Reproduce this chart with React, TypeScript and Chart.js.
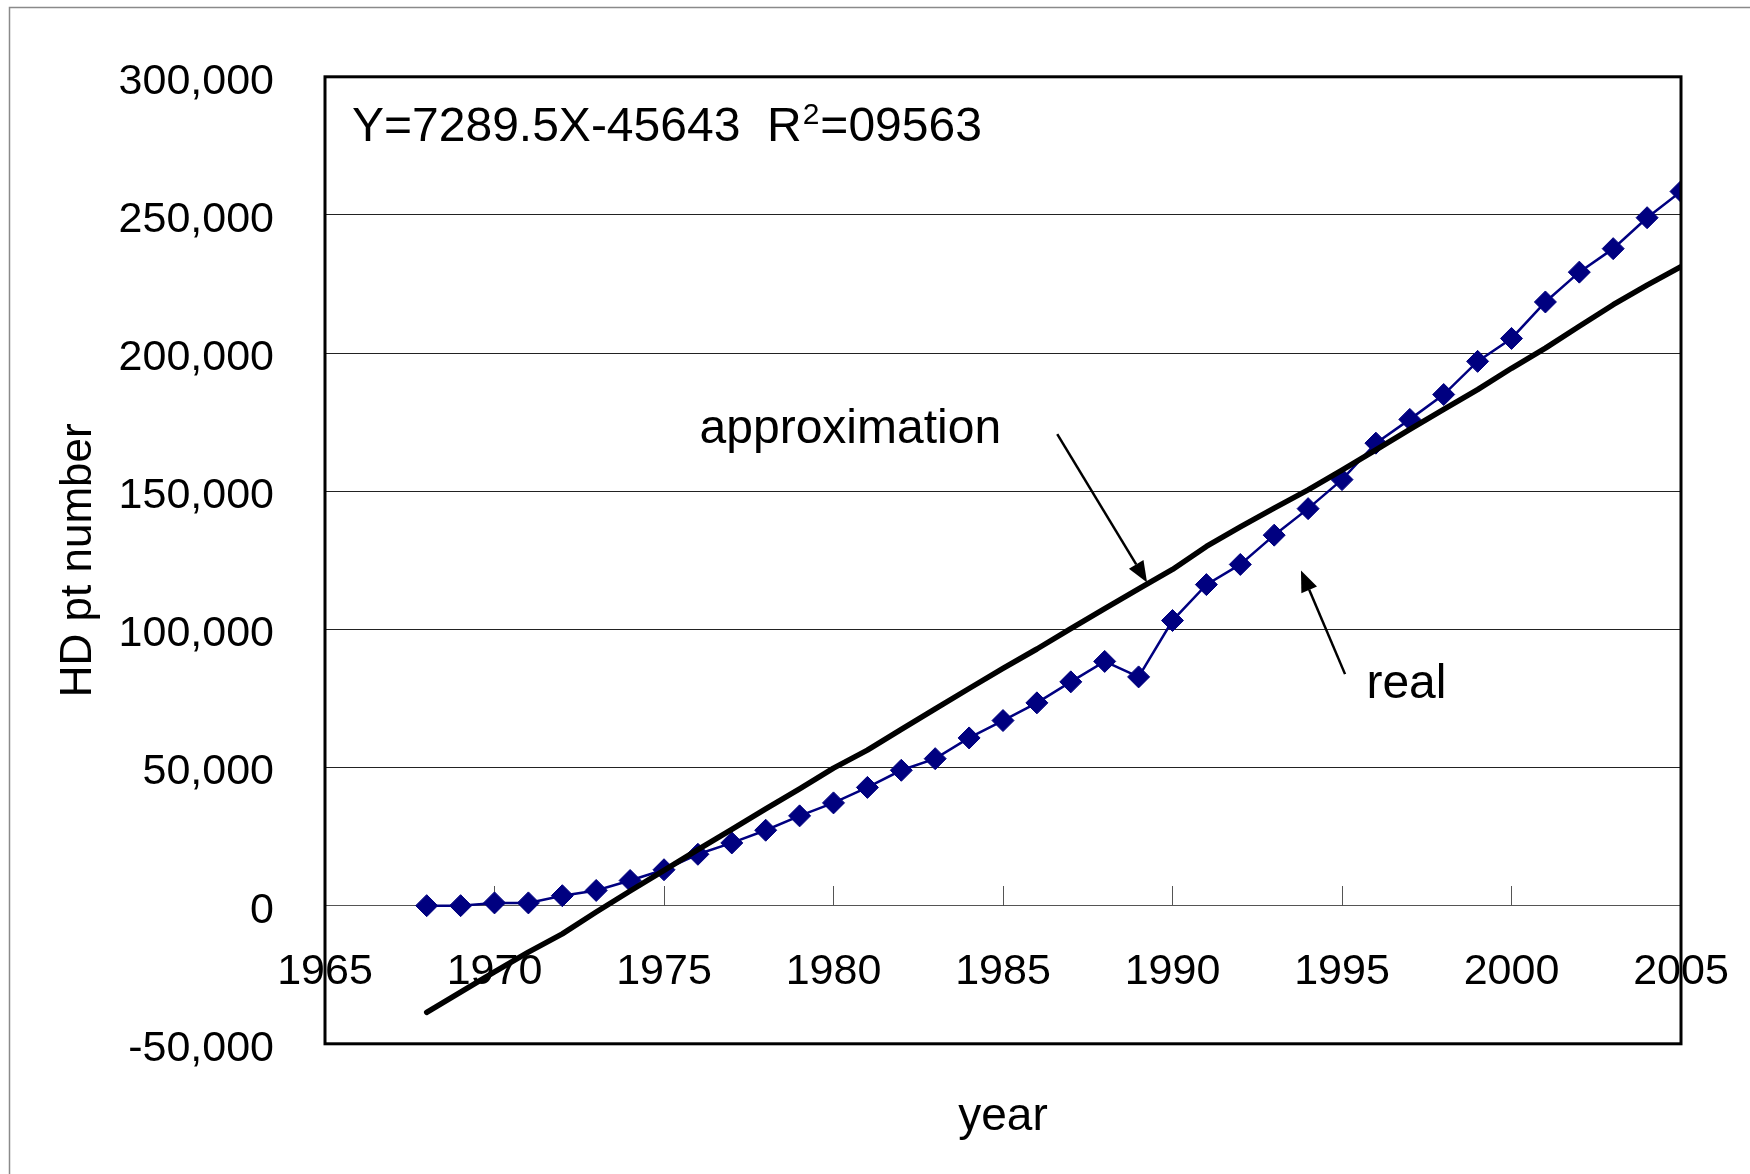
import React, { useEffect, useRef } from "react";
import { Chart, registerables } from "chart.js";

Chart.register(...registerables);

// ---- data ----
const years = [
  1968, 1969, 1970, 1971, 1972, 1973, 1974, 1975, 1976, 1977,
  1978, 1979, 1980, 1981, 1982, 1983, 1984, 1985, 1986, 1987,
  1988, 1989, 1990, 1991, 1992, 1993, 1994, 1995, 1996, 1997,
  1998, 1999, 2000, 2001, 2002, 2003, 2004, 2005,
];
const realValues = [
  0, 0, 1000, 1000, 3600, 5500, 9100, 13000, 18600, 22700,
  27300, 32500, 37200, 42800, 49000, 53200, 60700, 67000, 73400, 81000,
  88400, 82800, 103200, 116200, 123500, 134100, 143700, 154200, 167400, 176000,
  185000, 197000, 205300, 218500, 229300, 237800, 249000, 258500,
];
const approxValues = [
  -38600, -31300, -24000, -16800, -10200, -2300, 5300, 12800, 20300, 27600,
  35000, 42300, 49800, 56300, 63800, 71200, 78600, 85900, 92900, 100300,
  107500, 114700, 121700, 130000, 137100, 143900, 150500, 157600, 165000, 172400,
  179600, 186800, 194500, 201800, 209700, 217500, 224600, 231300,
];
const xMin = 1965;
const xMax = 2005;
const xStep = 5;
const yMin = -50000;
const yMax = 300000;
const yStep = 50000;
const yTitle = "HD pt number";
const xTitle = "year";
const eqMain = "Y=7289.5X-45643  R";
const eqSup = "2";
const eqTail = "=09563";
const labelApprox = "approximation";
const labelReal = "real";

const FONT = '"Liberation Sans", Arial, sans-serif';

function arrow(ctx: CanvasRenderingContext2D, x1: number, y1: number, x2: number, y2: number) {
  const ang = Math.atan2(y2 - y1, x2 - x1);
  const hl = 21;
  const hw = 8.5;
  const bx = x2 - hl * Math.cos(ang);
  const by = y2 - hl * Math.sin(ang);
  ctx.beginPath();
  ctx.moveTo(x1, y1);
  ctx.lineTo(bx, by);
  ctx.lineWidth = 2.5;
  ctx.strokeStyle = "#000";
  ctx.stroke();
  ctx.beginPath();
  ctx.moveTo(x2, y2);
  ctx.lineTo(bx - hw * Math.sin(ang), by + hw * Math.cos(ang));
  ctx.lineTo(bx + hw * Math.sin(ang), by - hw * Math.cos(ang));
  ctx.closePath();
  ctx.fillStyle = "#000";
  ctx.fill();
}

const decorations = {
  id: "decorations",
  beforeDraw(chart: any) {
    const ctx = chart.ctx as CanvasRenderingContext2D;
    ctx.save();
    ctx.fillStyle = "#fff";
    ctx.fillRect(0, 0, chart.width, chart.height);
    ctx.strokeStyle = "#8a8a8a";
    ctx.lineWidth = 1.5;
    ctx.beginPath();
    ctx.moveTo(9.5, chart.height);
    ctx.lineTo(9.5, 7.5);
    ctx.lineTo(chart.width, 7.5);
    ctx.stroke();
    ctx.restore();
  },
  afterDatasetsDraw(chart: any) {
    const ctx = chart.ctx as CanvasRenderingContext2D;
    const { left, top, right, bottom } = chart.chartArea;
    const xs = chart.scales.x;
    const ys = chart.scales.y;
    ctx.save();
    // plot frame
    ctx.strokeStyle = "#000";
    ctx.lineWidth = 3;
    ctx.strokeRect(left, top, right - left, bottom - top);

    // equation
    ctx.fillStyle = "#000";
    ctx.textAlign = "left";
    ctx.textBaseline = "alphabetic";
    ctx.font = `48px ${FONT}`;
    let ex = left + 27;
    const ey = top + 64;
    ctx.fillText(eqMain, ex, ey);
    ex += ctx.measureText(eqMain).width;
    ctx.font = `30px ${FONT}`;
    ctx.fillText(eqSup, ex + 1, ey - 17);
    ex += ctx.measureText(eqSup).width + 2;
    ctx.font = `48px ${FONT}`;
    ctx.fillText(eqTail, ex, ey);

    // annotation labels
    ctx.font = `48px ${FONT}`;
    ctx.fillText(labelApprox, xs.getPixelForValue(1976.05), ys.getPixelForValue(167300));
    ctx.fillText(labelReal, xs.getPixelForValue(1995.72), ys.getPixelForValue(75200));

    // arrows
    arrow(ctx, xs.getPixelForValue(1986.6), ys.getPixelForValue(170700), xs.getPixelForValue(1989.25), ys.getPixelForValue(117000));
    arrow(ctx, xs.getPixelForValue(1995.09), ys.getPixelForValue(83800), xs.getPixelForValue(1993.79), ys.getPixelForValue(121300));
    ctx.restore();
  },
};

export default function App() {
  const ref = useRef<HTMLCanvasElement | null>(null);

  useEffect(() => {
    if (!ref.current) return;
    const realPts = years.map((x, i) => ({ x, y: realValues[i] }));
    const approxPts = years.map((x, i) => ({ x, y: approxValues[i] }));
    const chart = new Chart(ref.current, {
      type: "line",
      data: {
        datasets: [
          {
            label: "approximation",
            data: approxPts,
            borderColor: "#000",
            borderWidth: 5.5,
            pointRadius: 0,
            tension: 0,
            fill: false,
            borderCapStyle: "round",
            borderJoinStyle: "round",
          },
          {
            label: "real",
            data: realPts,
            borderColor: "#000080",
            backgroundColor: "#000080",
            borderWidth: 2.5,
            pointStyle: "rectRot",
            pointRadius: 11,
            pointBorderWidth: 1,
            pointBorderColor: "#000080",
            pointBackgroundColor: "#000080",
            tension: 0,
            fill: false,
          },
        ],
      },
      options: {
        animation: false,
        responsive: false,
        maintainAspectRatio: false,
        events: [],
        layout: { padding: { left: 0, top: 72, right: 69, bottom: 29 } },
        plugins: {
          legend: { display: false },
          tooltip: { enabled: false },
          title: { display: false },
        },
        scales: {
          x: {
            type: "linear",
            position: { y: 0 } as any,
            min: xMin,
            max: xMax,
            ticks: {
              stepSize: xStep,
              autoSkip: false,
              maxRotation: 0,
              callback: (v: any) => String(v),
              color: "#000",
              font: { family: FONT, size: 43 },
              padding: 61,
            },
            grid: {
              display: true,
              drawOnChartArea: false,
              drawTicks: true,
              tickLength: -20,
              color: "#555",
              lineWidth: 1,
            },
            border: { display: true, color: "#555", width: 1 },
            afterFit: (s: any) => {
              s.paddingLeft = 0;
              s.paddingRight = 0;
            },
          },
          xTitleAxis: {
            type: "linear",
            position: "bottom",
            min: xMin,
            max: xMax,
            ticks: { display: false },
            grid: { display: false, drawTicks: false },
            border: { display: false },
            title: {
              display: true,
              text: xTitle,
              color: "#000",
              font: { family: FONT, size: 46 },
              padding: { top: 46, bottom: 0 },
            },
          },
          y: {
            type: "linear",
            position: "left",
            min: yMin,
            max: yMax,
            ticks: {
              stepSize: yStep,
              callback: (v: any) => Number(v).toLocaleString("en-US"),
              color: "#000",
              font: { family: FONT, size: 43 },
              padding: 51,
              labelOffset: 5,
            },
            grid: { color: "#222", lineWidth: 1, drawTicks: false },
            border: { display: false },
            title: {
              display: true,
              text: yTitle,
              color: "#000",
              font: { family: FONT, size: 44 },
              padding: { top: 52, bottom: 0 },
            },
            afterFit: (s: any) => {
              s.width = 325;
            },
          },
        },
      },
      plugins: [decorations],
    });
    return () => chart.destroy();
  }, []);

  return (
    <div style={{ position: "fixed", left: 0, top: 0, width: 1750, height: 1174, background: "#fff" }}>
      <canvas ref={ref} width={1750} height={1174} style={{ display: "block" }} />
    </div>
  );
}
